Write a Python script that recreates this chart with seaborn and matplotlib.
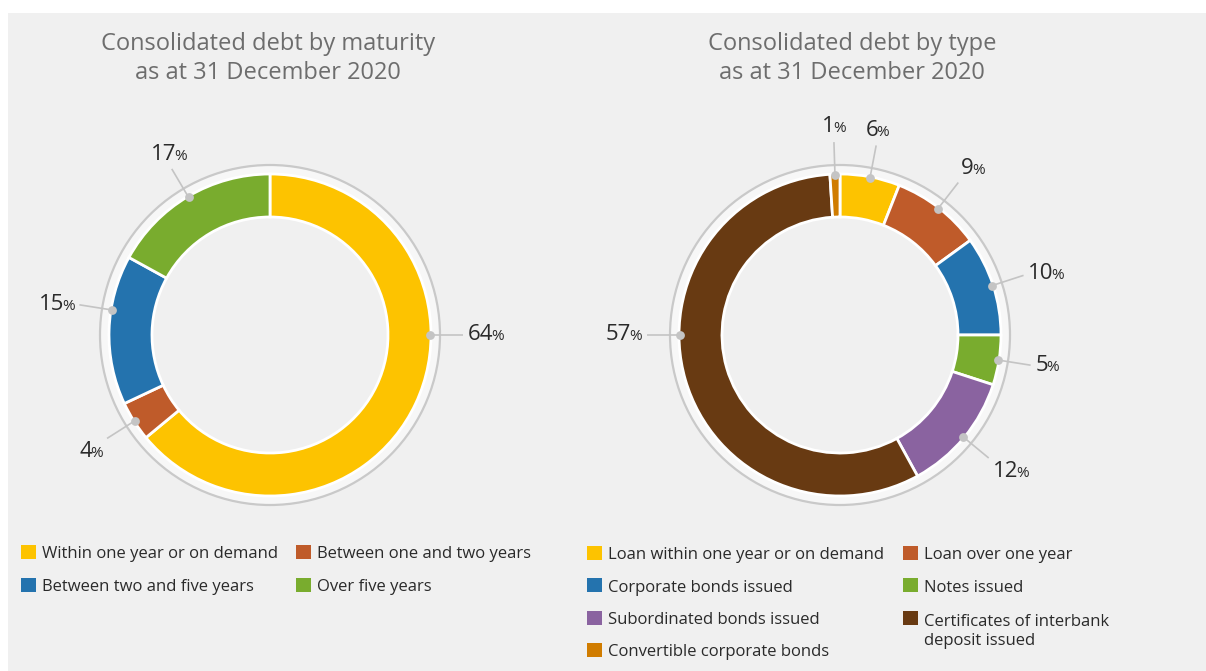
import matplotlib
matplotlib.use("Agg")            # no display, just write the png
import matplotlib.pyplot as plt
from matplotlib.patches import Circle, Rectangle
from matplotlib.offsetbox import TextArea, HPacker, AnnotationBbox
import numpy as np
import seaborn as sns

# ---------------- Data ----------------
maturity_labels = ["Within one year or on demand", "Between one and two years",
                   "Between two and five years", "Over five years"]
maturity_pct = [64, 4, 15, 17]
maturity_colors = ["#fdc300", "#bf5b2a", "#2473ae", "#79ac2e"]

type_labels = ["Loan within one year or on demand", "Loan over one year",
               "Corporate bonds issued", "Notes issued",
               "Subordinated bonds issued", "Certificates of interbank\ndeposit issued",
               "Convertible corporate bonds"]
type_pct = [6, 9, 10, 5, 12, 57, 1]
type_colors = ["#fdc300", "#bf5b2a", "#2473ae", "#79ac2e", "#8a63a0", "#683a12", "#d07c00"]

titles = ["Consolidated debt by maturity\nas at 31 December 2020",
          "Consolidated debt by type\nas at 31 December 2020"]

# ---------------- Style ----------------
sns.set_theme(style="white")
plt.rcParams["font.family"] = ["Open Sans", "DejaVu Sans"]

W, H = 1206, 671
BG = "#f0f0f0"
GREY = "#c4c4c4"
TXT = "#2a2a2a"

fig = plt.figure(figsize=(W / 100, H / 100), dpi=100, facecolor="white")
ax = fig.add_axes([0, 0, 1, 1])


def Y(y):                       # pixel row (from top) -> data y
    return H - y


def donut(values, colors, cx, cy, angle_fix):
    # halo ring + thin grey outline behind the donut
    ax.add_patch(Circle((cx, Y(cy)), 170, facecolor="#f7f7f7", edgecolor="#c9c9c9",
                        lw=1.6, zorder=1))
    ax.add_patch(Circle((cx, Y(cy)), 118, facecolor=BG, edgecolor="none", zorder=1.5))
    wedges, _ = ax.pie(values, colors=colors, startangle=90, counterclock=False,
                       center=(cx, Y(cy)), radius=161,
                       wedgeprops=dict(width=43, edgecolor="white", linewidth=2))
    for i, (w, v) in enumerate(zip(wedges, values)):
        w.set_zorder(3)
        ang = angle_fix.get(i, (w.theta1 + w.theta2) / 2)
        c, s = np.cos(np.radians(ang)), np.sin(np.radians(ang))
        x0, y0 = cx + 160 * c, Y(cy) + 160 * s
        x1, y1 = cx + 193 * c, Y(cy) + 193 * s
        ax.plot([x0, x1], [y0, y1], color=GREY, lw=1.2, zorder=4, solid_capstyle="butt")
        ax.scatter([x0], [y0], s=40, color=GREY, zorder=5, linewidths=0)
        hx = 0.0 if c > 0.55 else (1.0 if c < -0.55 else 0.5)
        hy = 0.0 if s > 0.45 else (1.0 if s < -0.45 else 0.5)
        box = HPacker(children=[TextArea(f"{v}", textprops=dict(fontsize=16, color=TXT)),
                                TextArea("%", textprops=dict(fontsize=11, color=TXT))],
                      align="baseline", pad=0, sep=-1.5)
        ab = AnnotationBbox(box, (cx + 198 * c, Y(cy) + 198 * s), frameon=False,
                            box_alignment=(hx, hy), pad=0, zorder=6)
        ax.add_artist(ab)


def legend(labels, colors, x0, y0, colw, rowh):
    for i, (lab, col) in enumerate(zip(labels, colors)):
        x = x0 + (i % 2) * colw
        y = y0 + (i // 2) * rowh
        ax.add_patch(Rectangle((x, Y(y) - 7), 14.5, 14, facecolor=col, edgecolor="none", zorder=3))
        # baseline alignment uses the last line, so push wrapped labels down
        ax.text(x + 21, Y(y + 6.5 + 21 * lab.count("\n")), lab, fontsize=12, color=TXT,
                ha="left", va="baseline", linespacing=1.26, zorder=3)


# light grey panel (thin white margin top/left like the source)
ax.add_patch(Rectangle((8, 0), W - 8, H - 13, facecolor=BG, edgecolor="none", zorder=0))

donut(maturity_pct, maturity_colors, 270, 335, {0: 0.0, 2: 171.0})
donut(type_pct, type_colors, 840, 335, {5: 180.0})

for tx, t in zip([268, 852], titles):
    ax.text(tx, Y(58.5), t, fontsize=17, color="#6d6d6d", ha="center", va="center",
            linespacing=1.24)

legend(maturity_labels, maturity_colors, 21, 552, 275, 32.5)
legend(type_labels, type_colors, 587, 552.5, 316, 32.5)

ax.set_xlim(0, W)
ax.set_ylim(0, H)
ax.set_aspect("equal")
ax.axis("off")

fig.savefig("out.png", dpi=100, facecolor="white")
plt.close(fig)
